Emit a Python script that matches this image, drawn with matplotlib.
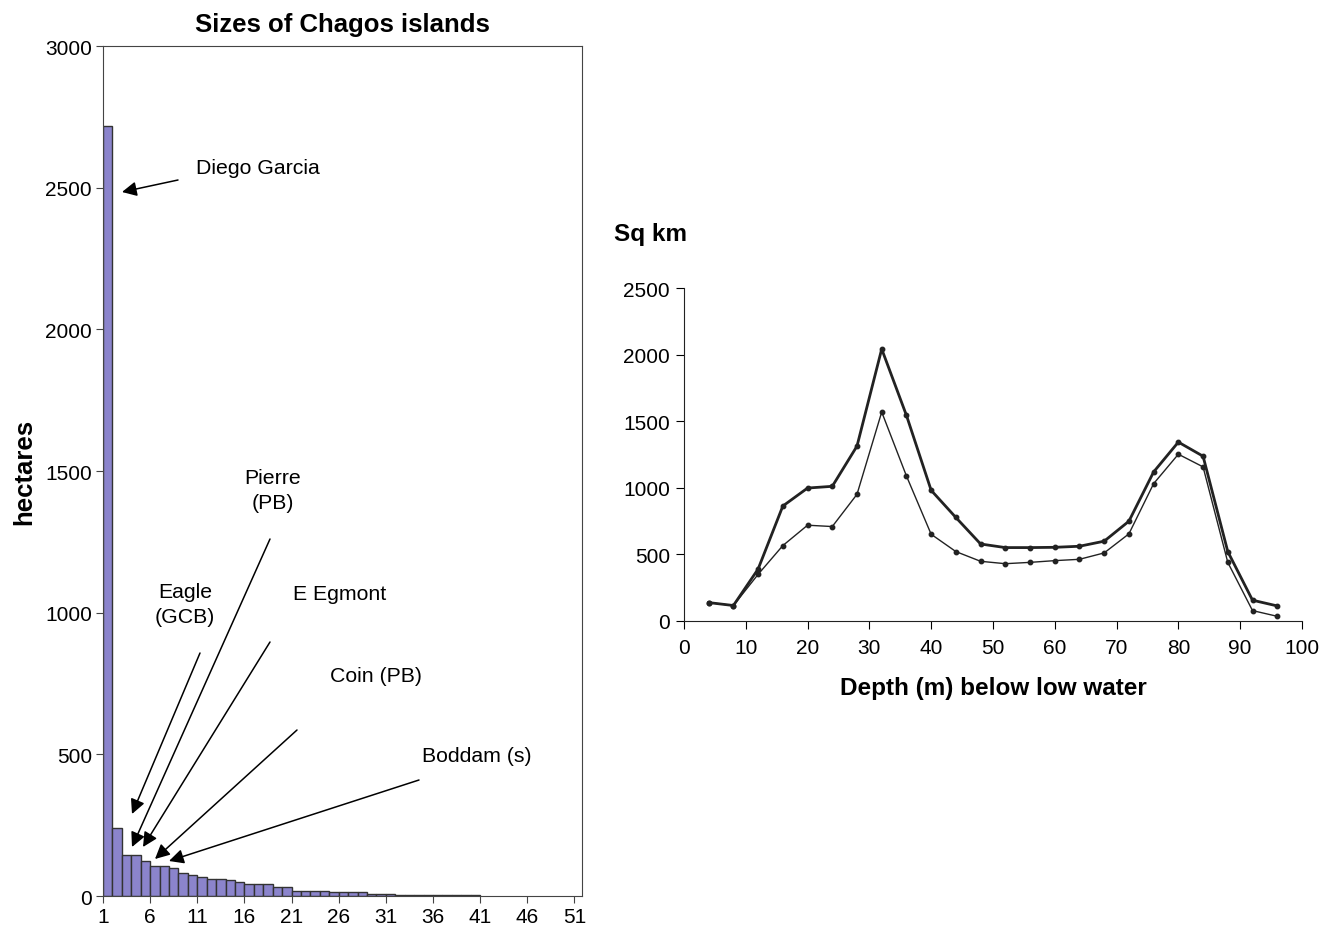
import numpy as np
import matplotlib.pyplot as plt

plt.rcParams['font.family'] = ['Liberation Sans', 'DejaVu Sans']

# island sizes (hectares), ranked
island_rank = list(range(1, 41))
hectares = [2718, 241, 146, 146, 124, 107, 107, 98, 82, 74,
            68, 61, 61, 55, 48, 42, 42, 42, 31, 31,
            19, 19, 19, 19, 14, 14, 14, 14, 8, 8,
            8, 4, 4, 4, 4, 4, 4, 4, 4, 4]
rank_ticks = [1, 6, 11, 16, 21, 26, 31, 36, 41, 46, 51]

# depth distribution
depth = [4, 8, 12, 16, 20, 24, 28, 32, 36, 40, 44, 48, 52, 56, 60, 64,
         68, 72, 76, 80, 84, 88, 92, 96]
area_thick = [138, 116, 390, 863, 998, 1011, 1313, 2042, 1544, 981, 777, 578,
              551, 551, 553, 561, 599, 749, 1119, 1343, 1237, 521, 156, 113]
area_thin = [138, 116, 350, 566, 719, 709, 951, 1569, 1089, 651, 521, 448,
             430, 440, 453, 463, 511, 654, 1031, 1252, 1157, 440, 78, 35]

fig = plt.figure(figsize=(13.33, 9.29), dpi=100)

# ---- left: island sizes ----
ax1 = fig.add_axes([0.0773, 0.0344, 0.3593, 0.915])
ax1.bar(island_rank, hectares, width=1, align='edge', color='#8b84cc',
        edgecolor='#333333', linewidth=1)
ax1.set_xlim(1, 51.8)
ax1.set_ylim(0, 3000)
ax1.set_xticks(rank_ticks)
ax1.set_yticks(range(0, 3001, 500))
ax1.tick_params(labelsize=15, direction='out', length=5, color='#444444')
ax1.tick_params(axis='y', pad=3)
ax1.tick_params(axis='x', pad=3)
for s in ax1.spines.values():
    s.set_color('#444444')
ax1.set_title('Sizes of Chagos islands', fontsize=18.5, fontweight='bold', pad=11)
ax1.set_ylabel('hectares', fontsize=18.5, fontweight='bold')
ax1.yaxis.set_label_coords(-0.14, 0.5)

# annotations: (label, text pos, arrow start, arrow tip) in pixel coords
def px(x, y):
    # convert pixel position in figure to data coords of ax1
    return ax1.transData.inverted().transform((x, 929 - y))

notes = [
    ('Diego Garcia', (258, 168), (178, 181), (122, 193)),
    ('Pierre\n(PB)', (273, 491), (270, 540), (132, 848)),
    ('Eagle\n(GCB)', (185, 605), (200, 654), (132, 815)),
    ('E Egmont', (340, 594), (270, 643), (143, 848)),
    ('Coin (PB)', (376, 676), (297, 731), (155, 860)),
    ('Boddam (s)', (477, 757), (419, 781), (169, 862)),
]
fig.canvas.draw()
for label, tpos, start, tip in notes:
    tx, ty = px(*tpos)
    ax1.text(tx, ty, label, fontsize=15.3, ha='center', va='center',
             multialignment='center', linespacing=1.4)
    sx, sy = px(*start)
    ex, ey = px(*tip)
    ax1.annotate('', xy=(ex, ey), xytext=(sx, sy),
                 arrowprops=dict(arrowstyle='-|>', color='black', lw=1.1,
                                 mutation_scale=22, shrinkA=0, shrinkB=0))

# ---- right: depth distribution ----
ax2 = fig.add_axes([0.5131, 0.3305, 0.4636, 0.3584])
ax2.plot(depth, area_thick, color='#222222', lw=2, marker='o', markersize=3.2)
ax2.plot(depth, area_thin, color='#222222', lw=1, marker='o', markersize=3.2)
ax2.set_xlim(0, 100)
ax2.set_ylim(0, 2500)
ax2.set_xticks(range(0, 101, 10))
ax2.set_yticks(range(0, 2501, 500))
ax2.spines['top'].set_visible(False)
ax2.spines['right'].set_visible(False)
for s in ax2.spines.values():
    s.set_color('#222222')
ax2.tick_params(labelsize=15, direction='out', length=6)
ax2.tick_params(axis='y', pad=4)
ax2.tick_params(axis='x', pad=6)
ax2.set_xlabel('Depth (m) below low water', fontsize=17.5, fontweight='bold', labelpad=14)
fig.text(650 / 1333, 1 - 235 / 929, 'Sq km', fontsize=17.5, fontweight='bold',
         ha='center', va='center')

fig.savefig('out.png', dpi=100)
